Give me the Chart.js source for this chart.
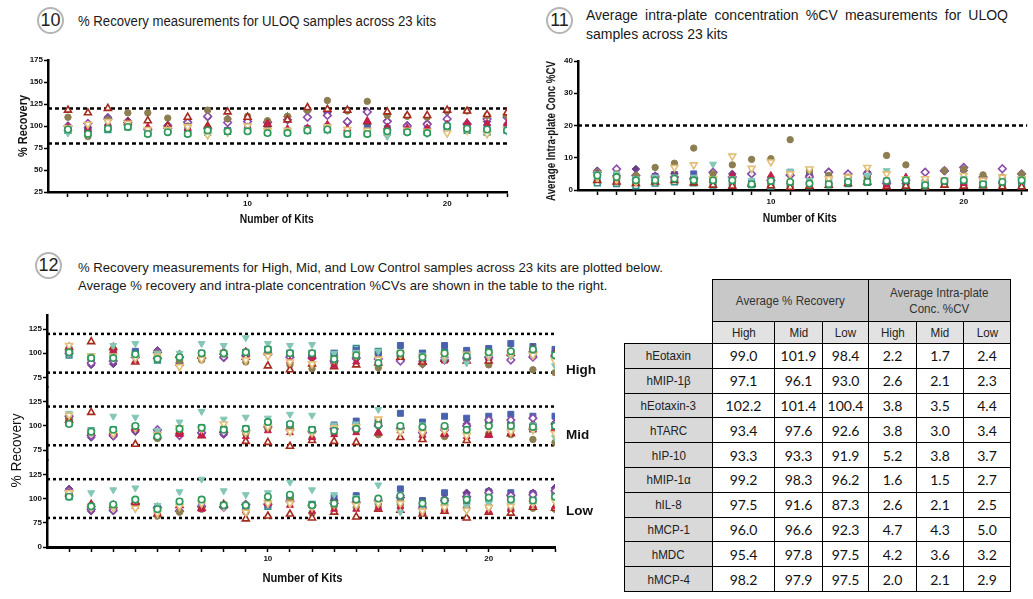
<!DOCTYPE html>
<html>
<head>
<meta charset="utf-8">
<script src="https://cdn.jsdelivr.net/npm/chart.js@4.4.0/dist/chart.umd.min.js"></script>
<style>
  body { margin: 0; background: #fff; width: 1033px; height: 599px; overflow: hidden; position: relative;
         font-family: 'Liberation Sans', Arial, sans-serif; color: #1a1a1a; }
  canvas { position: absolute; }
  .num { position: absolute; width: 23px; height: 23px; border: 2.5px solid #b5b5b5; border-radius: 50%;
         text-align: center; line-height: 23px; font-size: 18px; color: #222; }
  .ttl { position: absolute; font-size: 14px; white-space: nowrap; transform-origin: 0 0; }
  .ttl2 { position: absolute; font-size: 14px; width: 422px; line-height: 19px; text-align: justify; text-align-last: left; }
  .ttl3 { position: absolute; font-size: 13px; line-height: 18px; white-space: nowrap; transform-origin: 0 0; }
  .axt { position: absolute; white-space: nowrap; color: #111; transform-origin: 50% 50%; }
  #tbl { position: absolute; left: 624px; top: 279px; border-collapse: collapse; table-layout: fixed; }
  #tbl td { border: 1.5px solid #000; padding: 0; text-align: center; height: 23.8px; white-space: nowrap; }
  #tbl tr.g td { background: #c8c8c8; height: 41px; font-size: 13.5px; color: #333; line-height: 16px; }
  #tbl tr.s td { background: #e2e2e2; font-size: 13.5px; color: #222; height: 21px; }
  #tbl tr.g td.blank { border-top: hidden; border-left: hidden; background: #fff; }
  #tbl td.stub { background: #d9d9d9; font-size: 13.5px; color: #222; }
  #tbl td.v { font-family: Lato, 'Open Sans', sans-serif; font-size: 14px; color: #111; }
  #tbl span.n { display: inline-block; transform: scaleX(0.86); }
  #mask { position: absolute; background: #fff; }
</style>
</head>
<body>

<div class="num" style="left:37px;top:7px;">10</div>
<div class="ttl" id="t1" style="left:78px;top:13px;">% Recovery measurements for ULOQ samples across 23 kits</div>

<div class="num" style="left:546px;top:7px;">11</div>
<div class="ttl2" style="left:586px;top:6px;">Average intra-plate concentration %CV measurements for ULOQ samples across 23 kits</div>

<div class="num" style="left:35px;top:252px;">12</div>
<div class="ttl3" id="t3" style="left:78px;top:259px;">% Recovery measurements for High, Mid, and Low Control samples across 23 kits are plotted below.<br>Average % recovery and intra-plate concentration %CVs are shown in the table to the right.</div>

<canvas id="c1" width="520" height="185" style="left:0;top:45px;"></canvas>
<canvas id="c2" width="503" height="185" style="left:530px;top:45px;"></canvas>
<canvas id="c3" width="610" height="299" style="left:0;top:300px;"></canvas>

<table id="tbl"></table>
<div id="mask"></div>

<script>
const kits = [1, 2, 3, 4, 5, 6, 7, 8, 9, 10, 11, 12, 13, 14, 15, 16, 17, 18, 19, 20, 21, 22, 23];
const analytes = ['hEotaxin', 'hMIP-1β', 'hEotaxin-3', 'hTARC', 'hIP-10', 'hMIP-1α', 'hIL-8', 'hMCP-1', 'hMDC', 'hMCP-4'];

// panel 10: ULOQ % recovery, one row per analyte
const uloqRecovery = [
  [95, 93, 96, 99, 92, 95, 92, 93, 94, 95, 93, 93, 95, 96, 91, 92, 93, 94, 93, 97, 95, 93, 95],
  [96, 97, 99, 100, 94, 97, 95, 96, 95, 97, 99, 94, 97, 99, 93, 100, 97, 96, 96, 100, 98, 99, 100],
  [95, 98, 110, 106, 97, 101, 105, 110, 108, 107, 105, 111, 117, 115, 104, 116, 106, 101, 103, 116, 103, 105, 111],
  [100, 103, 108, 104, 96, 100, 104, 111, 104, 105, 104, 107, 110, 112, 105, 116, 105, 100, 102, 108, 102, 108, 110],
  [110, 88, 107, 115, 115, 109, 100, 118, 108, 111, 106, 111, 118, 129, 117, 128, 112, 111, 110, 117, 117, 112, 112],
  [118, 115, 120, 104, 106, 100, 110, 100, 116, 110, 102, 107, 121, 119, 118, 105, 116, 112, 112, 118, 117, 113, 115],
  [99, 96, 102, 103, 99, 96, 97, 98, 95, 99, 103, 97, 98, 102, 97, 106, 99, 98, 98, 102, 104, 103, 103],
  [92, 90, 97, 99, 92, 94, 91, 90, 92, 95, 94, 94, 95, 95, 91, 91, 88, 93, 91, 98, 96, 94, 94],
  [98, 102, 105, 103, 96, 96, 99, 90, 93, 100, 95, 95, 96, 99, 96, 95, 93, 95, 94, 92, 95, 91, 96],
  [96, 91, 97, 99, 91, 93, 91, 95, 94, 94, 92, 92, 95, 96, 91, 91, 94, 93, 92, 100, 97, 96, 95]
];

// panel 11: ULOQ intra-plate %CV
const uloqCV = [
  [2.2, 2.0, 1.3, 2.1, 2.5, 2.2, 1.5, 1.4, 1.7, 1.2, 1.0, 1.3, 1.6, 2.0, 2.4, 1.4, 1.3, 1.2, 1.9, 1.7, 1.6, 1.4, 1.3],
  [4.5, 4.2, 4.0, 4.2, 4.8, 5.0, 3.2, 3.5, 2.2, 3.2, 5.5, 4.8, 3.5, 3.4, 4.6, 2.8, 2.8, 2.0, 2.8, 3.0, 2.1, 2.4, 3.0],
  [6.0, 4.5, 6.5, 4.5, 5.0, 4.0, 5.5, 5.0, 1.8, 3.0, 4.5, 4.5, 5.7, 5.0, 5.5, 2.5, 2.0, 5.6, 5.8, 6.0, 3.5, 2.5, 4.0],
  [5.5, 6.5, 4.5, 4.0, 4.0, 3.5, 5.5, 4.0, 5.0, 3.0, 4.6, 4.0, 5.5, 5.0, 5.0, 2.0, 3.0, 5.5, 6.0, 7.0, 4.0, 6.6, 5.0],
  [5.5, 5.0, 4.5, 7.0, 8.3, 13.0, 5.0, 7.8, 9.5, 9.7, 15.6, 6.0, 4.5, 4.0, 4.0, 10.7, 7.8, 3.0, 6.0, 6.5, 4.7, 4.0, 5.0],
  [3.0, 2.5, 2.0, 2.5, 3.0, 2.2, 1.5, 1.2, 1.8, 1.3, 0.8, 1.2, 1.5, 2.0, 2.5, 1.0, 1.2, 1.0, 1.5, 1.2, 1.3, 1.0, 1.0],
  [5.0, 4.0, 3.0, 3.5, 3.5, 3.0, 3.0, 4.5, 2.0, 4.5, 2.5, 3.0, 2.5, 3.0, 3.5, 1.5, 4.0, 2.0, 2.5, 2.0, 2.0, 2.5, 3.0],
  [5.0, 5.0, 3.5, 4.0, 4.0, 4.0, 8.0, 3.5, 3.0, 3.0, 5.8, 3.0, 3.0, 3.0, 4.5, 6.0, 3.0, 2.5, 3.0, 3.5, 2.5, 3.0, 3.0],
  [4.0, 3.5, 2.5, 3.0, 7.0, 7.8, 3.5, 10.5, 6.7, 8.7, 5.0, 6.5, 3.5, 4.0, 7.0, 5.0, 3.5, 3.5, 3.0, 4.5, 3.0, 4.0, 3.5],
  [4.5, 4.0, 3.0, 3.0, 3.5, 3.0, 3.0, 3.0, 1.8, 2.8, 2.5, 2.0, 1.8, 2.5, 2.5, 2.8, 3.0, 1.5, 2.8, 3.0, 1.8, 2.5, 3.0]
];

// panel 12: control recoveries
const highRecovery = [
  [98, 96, 95, 100, 93, 93, 99, 100, 100, 104, 100, 100, 100, 105, 102, 100, 100, 101, 100, 101, 100, 100, 99],
  [104, 94, 100, 102, 96, 95, 100, 99, 101, 103, 100, 99, 100, 103, 100, 108, 100, 108, 103, 105, 110, 107, 104],
  [102, 88, 89, 98, 103, 90, 96, 95, 97, 101, 97, 97, 90, 94, 95, 93, 92, 96, 94, 95, 99, 97, 97],
  [100, 90, 92, 96, 101, 88, 95, 96, 98, 99, 96, 95, 92, 95, 94, 92, 89, 93, 95, 96, 93, 96, 98],
  [103, 96, 104, 98, 100, 92, 93, 99, 91, 100, 88, 84, 88, 96, 85, 97, 89, 97, 94, 88, 100, 83, 80],
  [106, 112, 106, 91, 97, 98, 97, 101, 96, 87, 83, 89, 86, 88, 90, 96, 91, 94, 92, 92, 100, 104, 99],
  [106, 95, 103, 92, 99, 99, 99, 102, 102, 100, 92, 96, 87, 91, 90, 99, 93, 92, 93, 95, 102, 103, 98],
  [100, 96, 108, 110, 100, 100, 110, 108, 116, 110, 108, 109, 100, 101, 102, 99, 98, 93, 90, 96, 97, 100, 87],
  [108, 97, 97, 95, 97, 86, 94, 100, 93, 97, 91, 89, 94, 98, 94, 99, 96, 97, 99, 98, 99, 98, 92],
  [101, 95, 95, 99, 94, 96, 100, 100, 101, 104, 100, 100, 94, 98, 90, 100, 96, 100, 97, 101, 102, 104, 98]
];
const midRecovery = [
  [103, 95, 96, 99, 90, 97, 98, 96, 97, 103, 101, 96, 99, 101, 104, 99, 97, 98, 99, 102, 98, 97, 99],
  [106, 92, 95, 98, 92, 96, 97, 96, 96, 102, 101, 96, 101, 105, 105, 113, 104, 110, 108, 110, 112, 110, 110],
  [108, 88, 89, 94, 95, 90, 92, 91, 94, 100, 97, 95, 96, 98, 102, 98, 95, 98, 102, 104, 103, 102, 103],
  [110, 90, 90, 96, 96, 90, 93, 93, 95, 99, 96, 94, 97, 97, 100, 97, 93, 96, 100, 106, 106, 108, 102],
  [107, 94, 95, 97, 87, 95, 97, 98, 92, 97, 98, 87, 92, 95, 91, 97, 92, 89, 93, 92, 91, 86, 83],
  [106, 114, 94, 81, 90, 94, 90, 96, 84, 83, 79, 85, 84, 83, 93, 88, 86, 92, 85, 91, 92, 99, 97],
  [104, 93, 93, 97, 88, 91, 90, 96, 89, 95, 93, 88, 91, 93, 93, 95, 90, 91, 89, 90, 93, 96, 97],
  [113, 95, 110, 109, 95, 104, 115, 107, 109, 108, 112, 111, 101, 102, 117, 99, 101, 98, 96, 99, 100, 101, 88],
  [111, 93, 92, 98, 91, 98, 97, 102, 93, 99, 94, 93, 98, 99, 107, 94, 93, 95, 90, 98, 94, 96, 92],
  [102, 94, 96, 100, 89, 97, 98, 96, 97, 104, 102, 96, 95, 97, 101, 100, 99, 100, 96, 100, 100, 99, 100]
];
const lowRecovery = [
  [102, 91, 92, 97, 88, 96, 98, 93, 92, 92, 102, 94, 96, 98, 97, 97, 94, 97, 98, 100, 100, 98, 103],
  [104, 92, 93, 98, 90, 95, 97, 93, 92, 94, 101, 93, 101, 103, 98, 110, 98, 106, 103, 107, 106, 105, 108],
  [110, 87, 87, 94, 90, 88, 91, 92, 93, 95, 98, 92, 98, 97, 97, 103, 92, 100, 106, 108, 104, 106, 111],
  [108, 89, 88, 95, 91, 87, 92, 91, 94, 94, 97, 93, 95, 96, 98, 101, 90, 98, 102, 106, 103, 104, 108],
  [103, 93, 92, 96, 82, 86, 89, 93, 86, 97, 99, 85, 92, 91, 91, 94, 86, 88, 90, 92, 89, 90, 89],
  [105, 94, 93, 96, 84, 93, 90, 94, 79, 82, 84, 80, 86, 81, 89, 88, 84, 87, 80, 86, 85, 91, 90],
  [103, 94, 93, 92, 86, 93, 89, 93, 88, 95, 93, 87, 89, 89, 90, 92, 86, 89, 92, 87, 89, 93, 92],
  [105, 106, 109, 111, 93, 107, 120, 108, 104, 106, 117, 109, 104, 101, 114, 86, 93, 94, 92, 95, 94, 96, 98],
  [106, 91, 91, 90, 85, 92, 95, 92, 86, 95, 95, 91, 94, 93, 95, 95, 87, 91, 88, 91, 92, 95, 97],
  [102, 92, 94, 99, 89, 97, 99, 93, 93, 102, 104, 93, 95, 99, 100, 103, 95, 98, 99, 101, 99, 98, 102]
];

const recoveryTicks = [25, 50, 75, 100, 125, 150, 175];
const cvTicks = [0, 10, 20, 30, 40];
const blockTicks = [75, 100, 125];
const lowBlockTicks = [50, 75, 100, 125];   // bottom tick of the broken axis reads 0
const xLabels = [10, 20];

// table
const tableLevels = ['High', 'Mid', 'Low'];
const avgRecovery = [
  [99.0, 101.9, 98.4], [97.1, 96.1, 93.0], [102.2, 101.4, 100.4], [93.4, 97.6, 92.6], [93.3, 93.3, 91.9],
  [99.2, 98.3, 96.2], [97.5, 91.6, 87.3], [96.0, 96.6, 92.3], [95.4, 97.8, 97.5], [98.2, 97.9, 97.5]
];
const avgCV = [
  [2.2, 1.7, 2.4], [2.6, 2.1, 2.3], [3.8, 3.5, 4.4], [3.8, 3.0, 3.4], [5.2, 3.8, 3.7],
  [1.6, 1.5, 2.7], [2.6, 2.1, 2.5], [4.7, 4.3, 5.0], [4.2, 3.6, 3.2], [2.0, 2.1, 2.9]
];

const markers = [
  { style: 'rect', color: '#2f8f8a', open: true, r: 4 },
  { style: 'rect', color: '#4a62ad', r: 4.2 },
  { style: 'rectRot', color: '#6a3d8a', r: 3.8 },
  { style: 'rectRot', color: '#8b4cab', open: true, r: 3.8 },
  { style: 'circle', color: '#8d7e52', r: 3.2 },
  { style: 'triangle', color: '#a52a1c', open: true, r: 4 },
  { style: 'triangle', color: '#c41e4a', r: 4 },
  { style: 'triangle', color: '#84c7b6', rot: 180, r: 4 },
  { style: 'triangle', color: '#e2bf78', open: true, rot: 180, r: 4 },
  { style: 'circle', color: '#2f9a5a', open: true, r: 3.2 }
];

function points(vals) {
  return vals.map((v, i) => ({ x: kits[i], y: v }));
}

function seriesSets(block, yAxisID) {
  return block.map((vals, i) => {
    const m = markers[i];
    return {
      label: analytes[i],
      data: points(vals),
      yAxisID: yAxisID,
      pointStyle: m.style,
      pointRadius: m.r,
      pointRotation: m.rot || 0,
      pointBackgroundColor: m.open ? '#ffffff' : m.color,
      pointBorderColor: m.color,
      pointBorderWidth: m.open ? 1.6 : 1,
      showLine: false
    };
  }).reverse();
}

function refLine(y, xMax, yAxisID, dash, width) {
  return {
    data: [{ x: 0, y: y }, { x: xMax, y: y }],
    yAxisID: yAxisID,
    showLine: true,
    borderColor: '#000',
    borderWidth: width,
    borderDash: dash,
    pointRadius: 0,
    order: 5
  };
}

const tickFont = { family: 'Liberation Sans', size: 8, weight: 'bold' };

function xAxis(max, height, borderW) {
  return {
    type: 'linear', min: 0, max: max,
    afterBuildTicks: s => { s.ticks = kits.map(k => ({ value: k })); },
    afterFit: s => { s.height = height; },
    border: { color: '#000', width: borderW },
    grid: { drawOnChartArea: false, color: '#000', tickColor: '#000', tickLength: 5, tickWidth: 1.5 },
    ticks: { autoSkip: false, maxRotation: 0, padding: 2, color: '#111', font: tickFont,
             callback: v => xLabels.includes(v) ? String(v) : '' }
  };
}

function yAxis(min, max, tickVals, width, extra) {
  return Object.assign({
    type: 'linear', min: min, max: max,
    afterBuildTicks: s => { s.ticks = tickVals.map(v => ({ value: v })); },
    afterFit: s => { s.width = width; },
    border: { color: '#000', width: 2.5 },
    grid: { drawOnChartArea: false, color: '#000', tickColor: '#000', tickLength: 4, tickWidth: 1.5 },
    ticks: { padding: 1, color: '#111', font: tickFont }
  }, extra || {});
}

const baseOpts = {
  responsive: false,
  animation: false,
  events: [],
  plugins: { legend: { display: false }, tooltip: { enabled: false } }
};

// panel 10
new Chart(document.getElementById('c1'), {
  type: 'scatter',
  data: { datasets: [refLine(120, 23, 'y', [4, 3], 2.5), refLine(80, 23, 'y', [4, 3], 2.5)].concat(seriesSets(uloqRecovery, 'y')) },
  options: Object.assign({}, baseOpts, {
    layout: { padding: { top: 15, right: 13, left: 0, bottom: 0 } },
    scales: { x: xAxis(23, 38, 2.5), y: yAxis(25, 175, recoveryTicks, 48) }
  })
});

// panel 11
new Chart(document.getElementById('c2'), {
  type: 'scatter',
  data: { datasets: [refLine(20, 23.3, 'y', [4, 3], 2.5)].concat(seriesSets(uloqCV, 'y')) },
  options: Object.assign({}, baseOpts, {
    layout: { padding: { top: 16, right: 1, left: 0, bottom: 0 } },
    scales: { x: xAxis(23.3, 40, 2.5), y: yAxis(0, 40, cvTicks, 48) }
  })
});

// panel 12: three stacked blocks sharing one x axis
const blockLabels = {
  id: 'blockLabels',
  afterDraw(chart) {
    const ctx = chart.ctx;
    ctx.save();
    ctx.font = "bold 13.5px 'Liberation Sans', Arial, sans-serif";
    ctx.fillStyle = '#111';
    ctx.textBaseline = 'middle';
    [['High', 'yHigh', 82], ['Mid', 'yMid', 90], ['Low', 'yLow', 87]].forEach(([t, id, v]) => {
      ctx.fillText(t, chart.chartArea.right + 11, chart.scales[id].getPixelForValue(v));
    });
    ctx.restore();
  }
};

const dash3 = [3, 3];
new Chart(document.getElementById('c3'), {
  type: 'scatter',
  data: {
    datasets: [
      refLine(120, 23, 'yHigh', dash3, 2.5), refLine(80, 23, 'yHigh', dash3, 2.5),
      refLine(120, 23, 'yMid', dash3, 2.5), refLine(80, 23, 'yMid', dash3, 2.5),
      refLine(120, 23, 'yLow', dash3, 2.5), refLine(80, 23, 'yLow', dash3, 2.5)
    ].concat(seriesSets(highRecovery, 'yHigh'), seriesSets(midRecovery, 'yMid'), seriesSets(lowRecovery, 'yLow'))
  },
  options: Object.assign({}, baseOpts, {
    layout: { padding: { top: 15, right: 55, left: 0, bottom: 0 } },
    scales: {
      x: xAxis(23, 52, 3),
      yHigh: yAxis(64.5, 139.5, blockTicks, 47, { stack: 'ctrl', stackWeight: 75, weight: 3 }),
      yMid: yAxis(64.5, 139.5, blockTicks, 47, { stack: 'ctrl', stackWeight: 75, weight: 2 }),
      yLow: yAxis(50, 139.5, lowBlockTicks, 47, {
        stack: 'ctrl', stackWeight: 89.5, weight: 1,
        ticks: { padding: 1, color: '#111', font: tickFont, callback: v => v === 50 ? '0' : String(v) }
      })
    }
  }),
  plugins: [blockLabels]
});

// axis titles, condensed to the printed lengths
function axisTitle(text, cx, cy, len, font, vertical) {
  const el = document.createElement('div');
  el.className = 'axt';
  el.style.font = font;
  el.textContent = text;
  document.body.appendChild(el);
  const r = el.getBoundingClientRect();
  el.style.left = (cx - r.width / 2) + 'px';
  el.style.top = (cy - r.height / 2) + 'px';
  el.style.transform = (vertical ? 'rotate(-90deg) ' : '') + 'scaleX(' + (len / r.width) + ')';
}
axisTitle('Number of Kits', 277, 219, 74, "bold 12.5px 'Liberation Sans'", false);
axisTitle('% Recovery', 23, 126, 62, "bold 12.5px 'Liberation Sans'", true);
axisTitle('Number of Kits', 800, 218, 74, "bold 12.5px 'Liberation Sans'", false);
axisTitle('Average Intra-plate  Conc  %CV', 551, 131, 140, "bold 12px 'Liberation Sans'", true);
axisTitle('Number of Kits', 302, 577, 80, "bold 13.5px 'Liberation Sans'", false);
axisTitle('% Recovery', 15, 450, 74, "15px 'Liberation Sans'", true);

// summary table
(function buildTable() {
  const tbl = document.getElementById('tbl');
  const widths = [88, 62, 48, 46, 48, 47, 47];
  const sp = t => '<span class="n">' + t + '</span>';
  let html = '<colgroup>' + widths.map(w => '<col style="width:' + w + 'px">').join('') + '</colgroup>';
  html += '<tr class="g"><td class="blank" rowspan="2"></td><td colspan="3">' + sp('Average % Recovery') + '</td>' +
          '<td colspan="3">' + sp('Average Intra-plate<br>Conc. %CV') + '</td></tr>';
  html += '<tr class="s">' + tableLevels.concat(tableLevels).map(l => '<td>' + sp(l) + '</td>').join('') + '</tr>';
  analytes.forEach((a, i) => {
    html += '<tr><td class="stub">' + sp(a) + '</td>' +
      avgRecovery[i].concat(avgCV[i]).map(v => '<td class="v">' + v.toFixed(1) + '</td>').join('') + '</tr>';
  });
  tbl.innerHTML = html;

  // keep the top-left corner empty: cover its outer edges
  const r = tbl.querySelector('td.blank').getBoundingClientRect();
  const m = document.getElementById('mask');
  m.style.left = (r.left - 3) + 'px';
  m.style.top = (r.top - 3) + 'px';
  m.style.width = (r.width + 3 - 1.5) + 'px';
  m.style.height = (r.height + 3 - 1.5) + 'px';
})();

// squeeze captions to their printed widths
function fitWidth(id, target) {
  const el = document.getElementById(id);
  const w = el.getBoundingClientRect().width;
  if (w > 0) el.style.transform = 'scaleX(' + (target / w) + ')';
}
fitWidth('t1', 358);
fitWidth('t3', 585);
</script>
</body>
</html>
